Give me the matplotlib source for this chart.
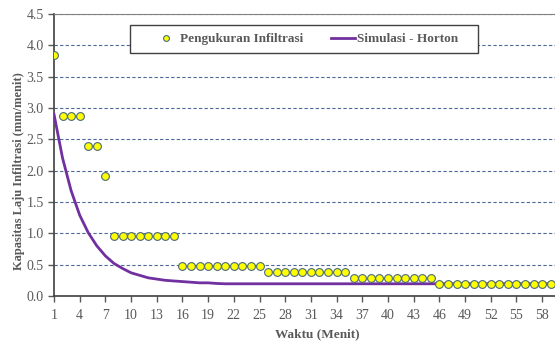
import matplotlib
matplotlib.use("Agg")
import matplotlib.pyplot as plt
from matplotlib.patches import Rectangle

# Waktu (menit)
waktu = list(range(1, 60))

# Pengukuran infiltrasi (mm/menit)
pengukuran = ([3.84] + [2.88] * 3 + [2.40] * 2 + [1.92] + [0.96] * 8 +
              [0.48] * 10 + [0.384] * 10 + [0.288] * 10 + [0.192] * 14)

# Simulasi Horton (mm/menit)
horton = [2.90, 2.20, 1.68, 1.29, 1.01, 0.80, 0.64, 0.52, 0.44, 0.37,
          0.33, 0.29, 0.27, 0.25, 0.24, 0.23, 0.22, 0.21, 0.21, 0.20] + [0.195] * 39

xticks = list(range(1, 60, 3))
yticks = [0.0, 0.5, 1.0, 1.5, 2.0, 2.5, 3.0, 3.5, 4.0, 4.5]

plt.rcParams['font.family'] = ['Liberation Serif', 'DejaVu Serif']
abu = '#595959'

fig = plt.figure(figsize=(5.55, 3.42), dpi=100)
ax = fig.add_axes([0.0973, 0.1345, 0.9027, 0.8245])

ax.plot(waktu, horton, color='#7030A0', linewidth=2, label='Simulasi - Horton', zorder=3)
ax.plot(waktu, pengukuran, linestyle='none', marker='o', markersize=5.6,
        markerfacecolor='#FFFF00', markeredgecolor='#4A6A78', markeredgewidth=0.8,
        label='Pengukuran Infiltrasi', zorder=4)

ax.set_xlim(1, 59.5)
ax.set_ylim(0, 4.5)
ax.set_xticks(xticks)
ax.set_yticks(yticks)
ax.set_yticklabels([f"{v:.1f}" for v in yticks])
ax.yaxis.grid(True, linestyle=(0, (3, 2)), color='#4F6A9A', linewidth=0.8)
ax.set_axisbelow(True)

ax.tick_params(axis='both', labelsize=10, colors=abu, direction='out', length=4, width=1)
ax.tick_params(axis='x', pad=5)
for s in ['left', 'bottom']:
    ax.spines[s].set_color('#404040')
    ax.spines[s].set_linewidth(1.2)
ax.spines['top'].set_color('#808080')
ax.spines['right'].set_visible(False)

ax.set_xlabel('Waktu (Menit)', fontsize=9.5, fontweight='bold', color=abu)
ax.set_ylabel('Kapasitas Laju Infiltrasi (mm/menit)', fontsize=9, fontweight='bold', color=abu)
ax.xaxis.set_label_coords(0.526, -0.115)
ax.yaxis.set_label_coords(-0.058, 0.443)

# kotak legenda
kotak = Rectangle((0.1517, 0.862), 0.6943, 0.099, transform=ax.transAxes,
                  facecolor='white', edgecolor='#404040', linewidth=1, zorder=5)
ax.add_patch(kotak)

h, l = ax.get_legend_handles_labels()
leg = ax.legend(h[::-1], l[::-1], ncol=2, loc='center', bbox_to_anchor=(0.503, 0.911),
                frameon=False, prop={'size': 9.5, 'weight': 'bold'}, labelcolor=abu,
                handlelength=1.8, columnspacing=2.1, handletextpad=0.15, markerscale=0.75)
leg.set_zorder(6)

fig.savefig('out.png', dpi=100)
